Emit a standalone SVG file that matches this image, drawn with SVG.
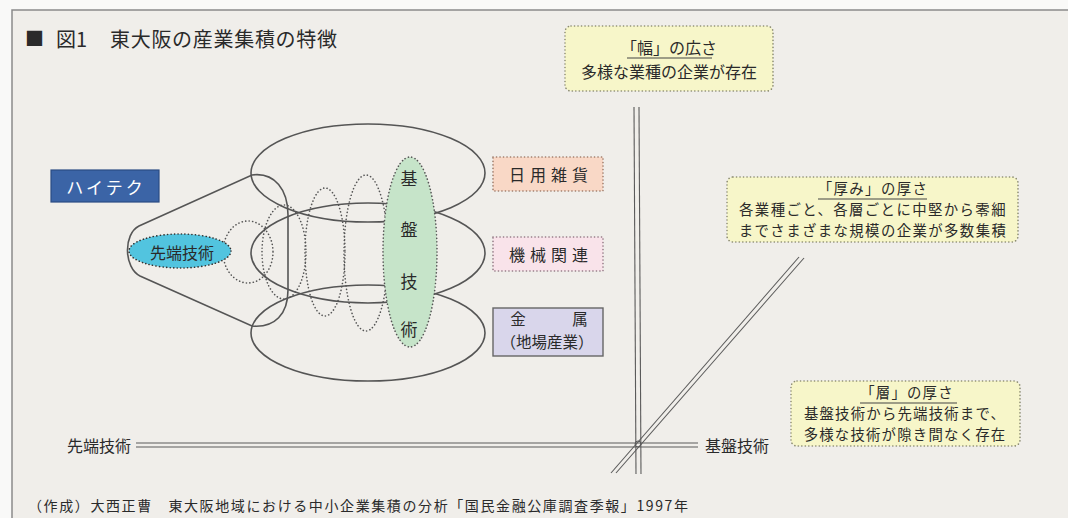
<svg xmlns="http://www.w3.org/2000/svg" width="1068" height="518" viewBox="0 0 1068 518">
<style>
.t{font-family:"Noto Sans CJK JP","Noto Sans",sans-serif;fill:#2a2a2a}
.ln{fill:none;stroke:#555;stroke-width:1.6}
.dot{fill:none;stroke:#555;stroke-width:1.6;stroke-dasharray:0.1 3.4;stroke-linecap:round}
.dl{fill:none;stroke:#5a5a5a;stroke-width:1.1}
.ybox{fill:#f7f6c9;stroke:#8a8a70;stroke-width:1.6;stroke-dasharray:0.1 3.4;stroke-linecap:round}
.ul{stroke:#444;stroke-width:1.2}
</style>
<rect x="0" y="0" width="1068" height="518" fill="#f9f9f8"/>
<rect x="12" y="10" width="1056" height="508" fill="#f0eeea"/>
<path d="M12,518 V10 H1068" fill="none" stroke="#8a8a8a" stroke-width="1.5"/>
<g id="title">
<text class="t" x="25" y="46" font-size="19" fill="#222">■</text>
<text class="t" x="56" y="47" font-size="20">図1</text>
<text class="t" x="110" y="47" font-size="20" textLength="227" lengthAdjust="spacing">東大阪の産業集積の特徴</text>
</g>
<g id="cluster">
<ellipse class="ln" cx="368" cy="173" rx="117" ry="49"/>
<ellipse class="ln" cx="368" cy="253" rx="117" ry="50"/>
<ellipse class="ln" cx="368" cy="333" rx="117" ry="48"/>
<path class="ln" d="M252,175 C275,172 288,190 288,215 V290 C288,314 275,328 252,326 L140,276 C124,268 123,234 139,226 Z"/>
<ellipse class="dot" cx="248" cy="252" rx="25" ry="31"/>
<ellipse class="dot" cx="284" cy="252" rx="22" ry="47"/>
<ellipse class="dot" cx="325" cy="252" rx="20" ry="64"/>
<ellipse class="dot" cx="366" cy="253" rx="22" ry="78"/>
</g>
<g id="kiban">
<ellipse cx="410" cy="252" rx="27" ry="95" fill="#c6e4c9" stroke="#555" stroke-width="1.6" stroke-dasharray="0.1 3.4" stroke-linecap="round"/>
<text class="t" x="409" y="177" font-size="17" text-anchor="middle" dominant-baseline="central">基</text>
<text class="t" x="409" y="228" font-size="17" text-anchor="middle" dominant-baseline="central">盤</text>
<text class="t" x="409" y="280" font-size="17" text-anchor="middle" dominant-baseline="central">技</text>
<text class="t" x="409" y="328" font-size="17" text-anchor="middle" dominant-baseline="central">術</text>
</g>
<g id="sentan">
<ellipse cx="180" cy="251" rx="51" ry="17" fill="#52c4df" stroke="#333" stroke-width="1.6" stroke-dasharray="0.1 3.4" stroke-linecap="round"/>
<text class="t" x="182" y="252" font-size="16" text-anchor="middle" dominant-baseline="central" fill="#1d3440">先端技術</text>
</g>
<g id="hitech">
<rect x="51" y="170" width="108" height="32" fill="#3b64a6" stroke="#2b4c84" stroke-width="1.2"/>
<text class="t" x="106" y="186" font-size="17" text-anchor="middle" dominant-baseline="central" letter-spacing="3" style="fill:#fff">ハイテク</text>
</g>
<g id="nichiyo">
<rect x="493" y="157" width="110" height="34" fill="#f9d8c6" stroke="#9a7766" stroke-width="1.6" stroke-dasharray="0.1 3.4" stroke-linecap="round"/>
<text class="t" x="551" y="174" font-size="16" text-anchor="middle" dominant-baseline="central" letter-spacing="5">日用雑貨</text>
</g>
<g id="kikai">
<rect x="493" y="237" width="110" height="34" fill="#f9e3ea" stroke="#8f7480" stroke-width="1.6" stroke-dasharray="0.1 3.4" stroke-linecap="round"/>
<text class="t" x="551" y="254" font-size="16" text-anchor="middle" dominant-baseline="central" letter-spacing="5">機械関連</text>
</g>
<g id="kinzoku">
<rect x="493" y="308" width="110" height="48" fill="#d9d6eb" stroke="#666" stroke-width="1.4"/>
<text class="t" font-size="15.5" text-anchor="middle"><tspan x="518" y="325">金</tspan><tspan x="580" y="325">属</tspan><tspan x="547" y="348">（地場産業）</tspan></text>
</g>
<g id="haba">
<rect class="ybox" x="565" y="26" width="208" height="65" rx="6"/>
<line class="ul" x1="627" y1="58" x2="712" y2="58"/>
<text class="t" font-size="16" text-anchor="middle"><tspan x="669" y="54">「幅」の広さ</tspan><tspan x="669" y="78">多様な業種の企業が存在</tspan></text>
</g>
<g id="atsumi">
<rect class="ybox" x="727" y="177" width="291" height="65" rx="6"/>
<line class="ul" x1="818" y1="199" x2="927" y2="199"/>
<text class="t" font-size="14.4" text-anchor="middle" letter-spacing="1.4"><tspan x="873" y="194">「厚み」の厚さ</tspan><tspan x="873" y="215">各業種ごと、各層ごとに中堅から零細</tspan><tspan x="873" y="236">までさまざまな規模の企業が多数集積</tspan></text>
</g>
<g id="so">
<rect class="ybox" x="791" y="381" width="229" height="65" rx="6"/>
<line class="ul" x1="860" y1="403" x2="957" y2="403"/>
<text class="t" font-size="14.4" text-anchor="middle" letter-spacing="1.2"><tspan x="907" y="398">「層」の厚さ</tspan><tspan x="905" y="419">基盤技術から先端技術まで、</tspan><tspan x="905" y="440">多様な技術が隙き間なく存在</tspan></text>
</g>
<g id="connectors">
<line class="dl" x1="634" y1="107" x2="636" y2="474"/>
<line class="dl" x1="639" y1="107" x2="641" y2="474"/>
<line class="dl" x1="136" y1="443" x2="698" y2="443"/>
<line class="dl" x1="136" y1="447" x2="698" y2="447"/>
<line class="dl" x1="611" y1="473" x2="799" y2="257"/>
<line class="dl" x1="616" y1="473" x2="804" y2="258"/>
<circle cx="638" cy="444" r="3" fill="none" stroke="#5a5a5a" stroke-width="1"/>
</g>
<g id="axis-labels">
<text class="t" x="131" y="445" font-size="16" text-anchor="end" dominant-baseline="central">先端技術</text>
<text class="t" x="705" y="445" font-size="16" dominant-baseline="central">基盤技術</text>
</g>
<g id="footer">
<text class="t" x="28" y="505" font-size="14" dominant-baseline="central" textLength="660" lengthAdjust="spacing">（作成）大西正曹　東大阪地域における中小企業集積の分析「国民金融公庫調査季報」1997年</text>
</g>
</svg>
